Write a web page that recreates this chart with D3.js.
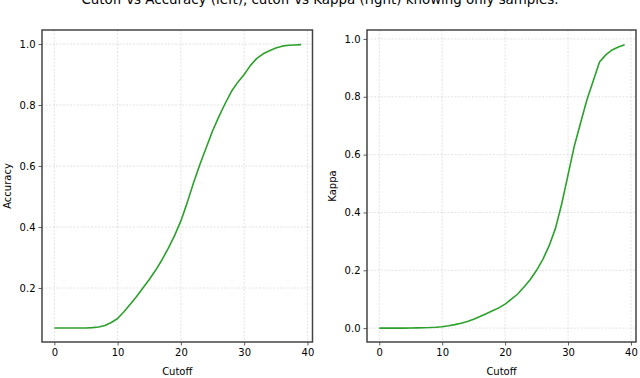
<!DOCTYPE html>
<html>
<head>
<meta charset="utf-8">
<script src="https://cdn.jsdelivr.net/npm/d3@7"></script>
<style>
  body { margin: 0; background: #fff; }
  svg { display: block; font-family: "DejaVu Sans", sans-serif; }
</style>
</head>
<body>
<svg id="chart" width="640" height="378"></svg>
<script>
// cutoff values shared by both panels
const cutoffs = d3.range(0, 40);

const accuracy = [
  0.069, 0.069, 0.069, 0.069, 0.069, 0.069, 0.070, 0.072, 0.077, 0.087,
  0.100, 0.122, 0.147, 0.172, 0.200, 0.228, 0.258, 0.292, 0.330, 0.372,
  0.420, 0.480, 0.545, 0.605, 0.660, 0.715, 0.762, 0.805, 0.845, 0.875,
  0.900, 0.930, 0.953, 0.968, 0.978, 0.987, 0.993, 0.996, 0.997, 0.998
];

const kappa = [
  0.000, 0.000, 0.000, 0.000, 0.000, 0.0005, 0.001, 0.0015, 0.002, 0.003,
  0.005, 0.008, 0.012, 0.017, 0.023, 0.031, 0.040, 0.050, 0.060, 0.070,
  0.083, 0.100, 0.118, 0.142, 0.168, 0.200, 0.238, 0.285, 0.345, 0.430,
  0.530, 0.630, 0.710, 0.790, 0.855, 0.920, 0.945, 0.962, 0.972, 0.980
];

const xTicks = [0, 10, 20, 30, 40];
const accTicks = [0.2, 0.4, 0.6, 0.8, 1.0];
const kappaTicks = [0.0, 0.2, 0.4, 0.6, 0.8, 1.0];

const titleText = "Cutoff vs Accuracy (left), cutoff vs Kappa (right) knowing only samples.";

const svg = d3.select("#chart");

// title sits mostly above the top edge, like the source image
svg.append("text")
  .attr("x", 320)
  .attr("y", 3.5)
  .attr("text-anchor", "middle")
  .attr("font-size", 13.4)
  .attr("fill", "#000")
  .text(titleText);

function panel(opts) {
  const { left, right, top, bottom, yDomain, values, yTicks, yLabel, yLabelX } = opts;

  const x = d3.scaleLinear().domain([-1.95, 40.8]).range([left, right]);
  const y = d3.scaleLinear().domain(yDomain).range([bottom, top]);

  const g = svg.append("g");

  // grid
  g.append("g")
    .selectAll("line")
    .data(xTicks)
    .join("line")
      .attr("x1", d => x(d)).attr("x2", d => x(d))
      .attr("y1", top).attr("y2", bottom)
      .attr("stroke", "#b0b0b0")
      .attr("stroke-opacity", 0.45)
      .attr("stroke-width", 0.8)
      .attr("stroke-dasharray", "2,1.5");

  g.append("g")
    .selectAll("line")
    .data(yTicks)
    .join("line")
      .attr("x1", left).attr("x2", right)
      .attr("y1", d => y(d)).attr("y2", d => y(d))
      .attr("stroke", "#b0b0b0")
      .attr("stroke-opacity", 0.45)
      .attr("stroke-width", 0.8)
      .attr("stroke-dasharray", "2,1.5");

  // the curve
  const line = d3.line()
    .x((d, i) => x(cutoffs[i]))
    .y(d => y(d));

  g.append("path")
    .datum(values)
    .attr("fill", "none")
    .attr("stroke", "#2ca02c")
    .attr("stroke-width", 1.6)
    .attr("stroke-linejoin", "round")
    .attr("d", line);

  // axes
  const xAxis = g.append("g")
    .attr("transform", `translate(0,${bottom})`)
    .call(d3.axisBottom(x).tickValues(xTicks).tickSize(3.5).tickPadding(3).tickFormat(d3.format("d")));

  const yAxis = g.append("g")
    .attr("transform", `translate(${left},0)`)
    .call(d3.axisLeft(y).tickValues(yTicks).tickSize(3.5).tickPadding(3).tickFormat(d3.format(".1f")));

  [xAxis, yAxis].forEach(a => {
    a.select(".domain").remove();
    a.selectAll("line").attr("stroke", "#333").attr("stroke-width", 0.8);
    a.selectAll("text").attr("font-size", 10).attr("fill", "#000")
      .attr("font-family", "DejaVu Sans, sans-serif");
  });

  // frame
  g.append("rect")
    .attr("x", left).attr("y", top)
    .attr("width", right - left).attr("height", bottom - top)
    .attr("fill", "none")
    .attr("stroke", "#444")
    .attr("stroke-width", 1.5);

  g.append("text")
    .attr("x", (left + right) / 2)
    .attr("y", 375)
    .attr("text-anchor", "middle")
    .attr("font-size", 10)
    .text("Cutoff");

  g.append("text")
    .attr("transform", `translate(${yLabelX},${(top + bottom) / 2}) rotate(-90)`)
    .attr("text-anchor", "middle")
    .attr("font-size", 10)
    .text(yLabel);
}

panel({
  left: 42, right: 312.5, top: 30, bottom: 342,
  yDomain: [0.023, 1.046],
  values: accuracy, yTicks: accTicks,
  yLabel: "Accuracy", yLabelX: 11
});

panel({
  left: 367, right: 636, top: 30, bottom: 342,
  yDomain: [-0.048, 1.031],
  values: kappa, yTicks: kappaTicks,
  yLabel: "Kappa", yLabelX: 336
});
</script>
</body>
</html>
